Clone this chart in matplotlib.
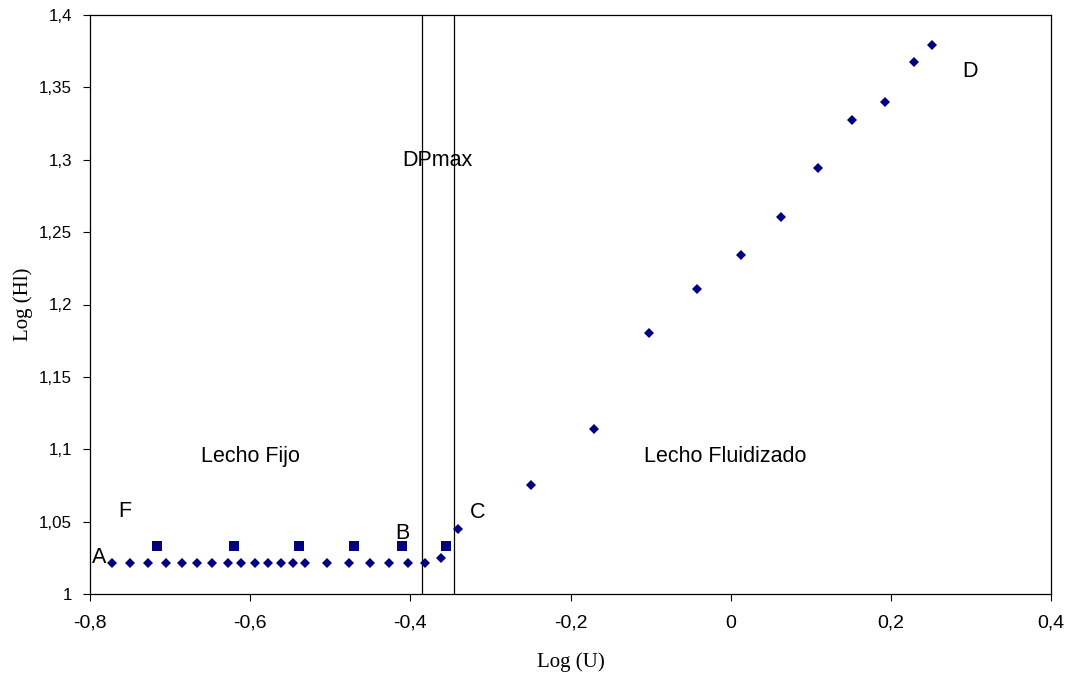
import matplotlib
matplotlib.use("Agg")
import matplotlib.pyplot as plt
from matplotlib.ticker import FuncFormatter, MultipleLocator

# Diamond series (Log U, Log Hl)
log_u = [-0.7729, -0.7500, -0.7271, -0.7054, -0.6846, -0.6659, -0.6471, -0.6279,
         -0.6109, -0.5941, -0.5779, -0.5621, -0.5471, -0.5321, -0.5038, -0.4766,
         -0.4504, -0.4263, -0.4029, -0.3813, -0.3613, -0.3404,
         -0.2488, -0.1704, -0.1021, -0.0421, 0.0129, 0.0629, 0.1088, 0.1521,
         0.1921, 0.2291, 0.2513]
log_hl = [1.0212] * 20 + [1.0251, 1.0449,
          1.0753, 1.1138, 1.1803, 1.2109, 1.2342, 1.2602, 1.2945, 1.3275,
          1.3397, 1.3675, 1.3795]

# Square series
sq_u = [-0.7167, -0.6204, -0.5396, -0.4700, -0.4100, -0.3550]
sq_hl = [1.0334] * 6

# Vertical reference lines
vlines_x = [-0.386, -0.345]

# Annotations (text, x, y)
labels = [("A", -0.789, 1.0255), ("F", -0.756, 1.0567), ("B", -0.4104, 1.0419),
          ("C", -0.3154, 1.0564), ("D", 0.2988, 1.3608), ("DPmax", -0.3659, 1.2993),
          ("Lecho Fijo", -0.5996, 1.0949), ("Lecho Fluidizado", -0.0071, 1.0953)]

fig = plt.figure(figsize=(10.72, 6.79), dpi=100)
ax = fig.add_axes([90/1072, 1 - 594/679, (1051-90)/1072, (594-15)/679])

sans = ["Liberation Sans", "DejaVu Sans"]
serif = ["Liberation Serif", "DejaVu Serif"]

for xv in vlines_x:
    ax.axvline(xv, color="black", lw=0.9, zorder=1)

ax.plot(log_u, log_hl, linestyle="none", marker="D", markersize=5.6,
        color="#000080", markeredgewidth=0, zorder=3)
ax.plot(sq_u, sq_hl, linestyle="none", marker="s", markersize=6.6,
        color="#000080", markeredgewidth=0, zorder=3)

for t, x, y in labels:
    ax.text(x, y, t, ha="center", va="center", fontsize=15.5, family=sans, color="black")

ax.set_xlim(-0.8, 0.4)
ax.set_ylim(1.0, 1.4)
ax.xaxis.set_major_locator(MultipleLocator(0.2))
ax.yaxis.set_major_locator(MultipleLocator(0.05))

def fmt(v, pos):
    s = f"{v:.2f}".rstrip("0").rstrip(".")
    if s in ("-0", "0"):
        s = "0"
    return s.replace(".", ",")

ax.xaxis.set_major_formatter(FuncFormatter(fmt))
ax.yaxis.set_major_formatter(FuncFormatter(fmt))
ax.tick_params(direction="out", length=5, width=0.8)
ax.tick_params(axis="x", pad=10, labelsize=14)
ax.tick_params(axis="y", pad=8, labelsize=12.2)
for lab in ax.get_xticklabels() + ax.get_yticklabels():
    lab.set_family(sans)

for sp in ax.spines.values():
    sp.set_linewidth(0.9)

ax.set_xlabel("Log (U)", family=serif, fontsize=15, labelpad=15)
ax.set_ylabel("Log (Hl)", family=serif, fontsize=15, labelpad=4)

fig.savefig("out.png", dpi=100)
